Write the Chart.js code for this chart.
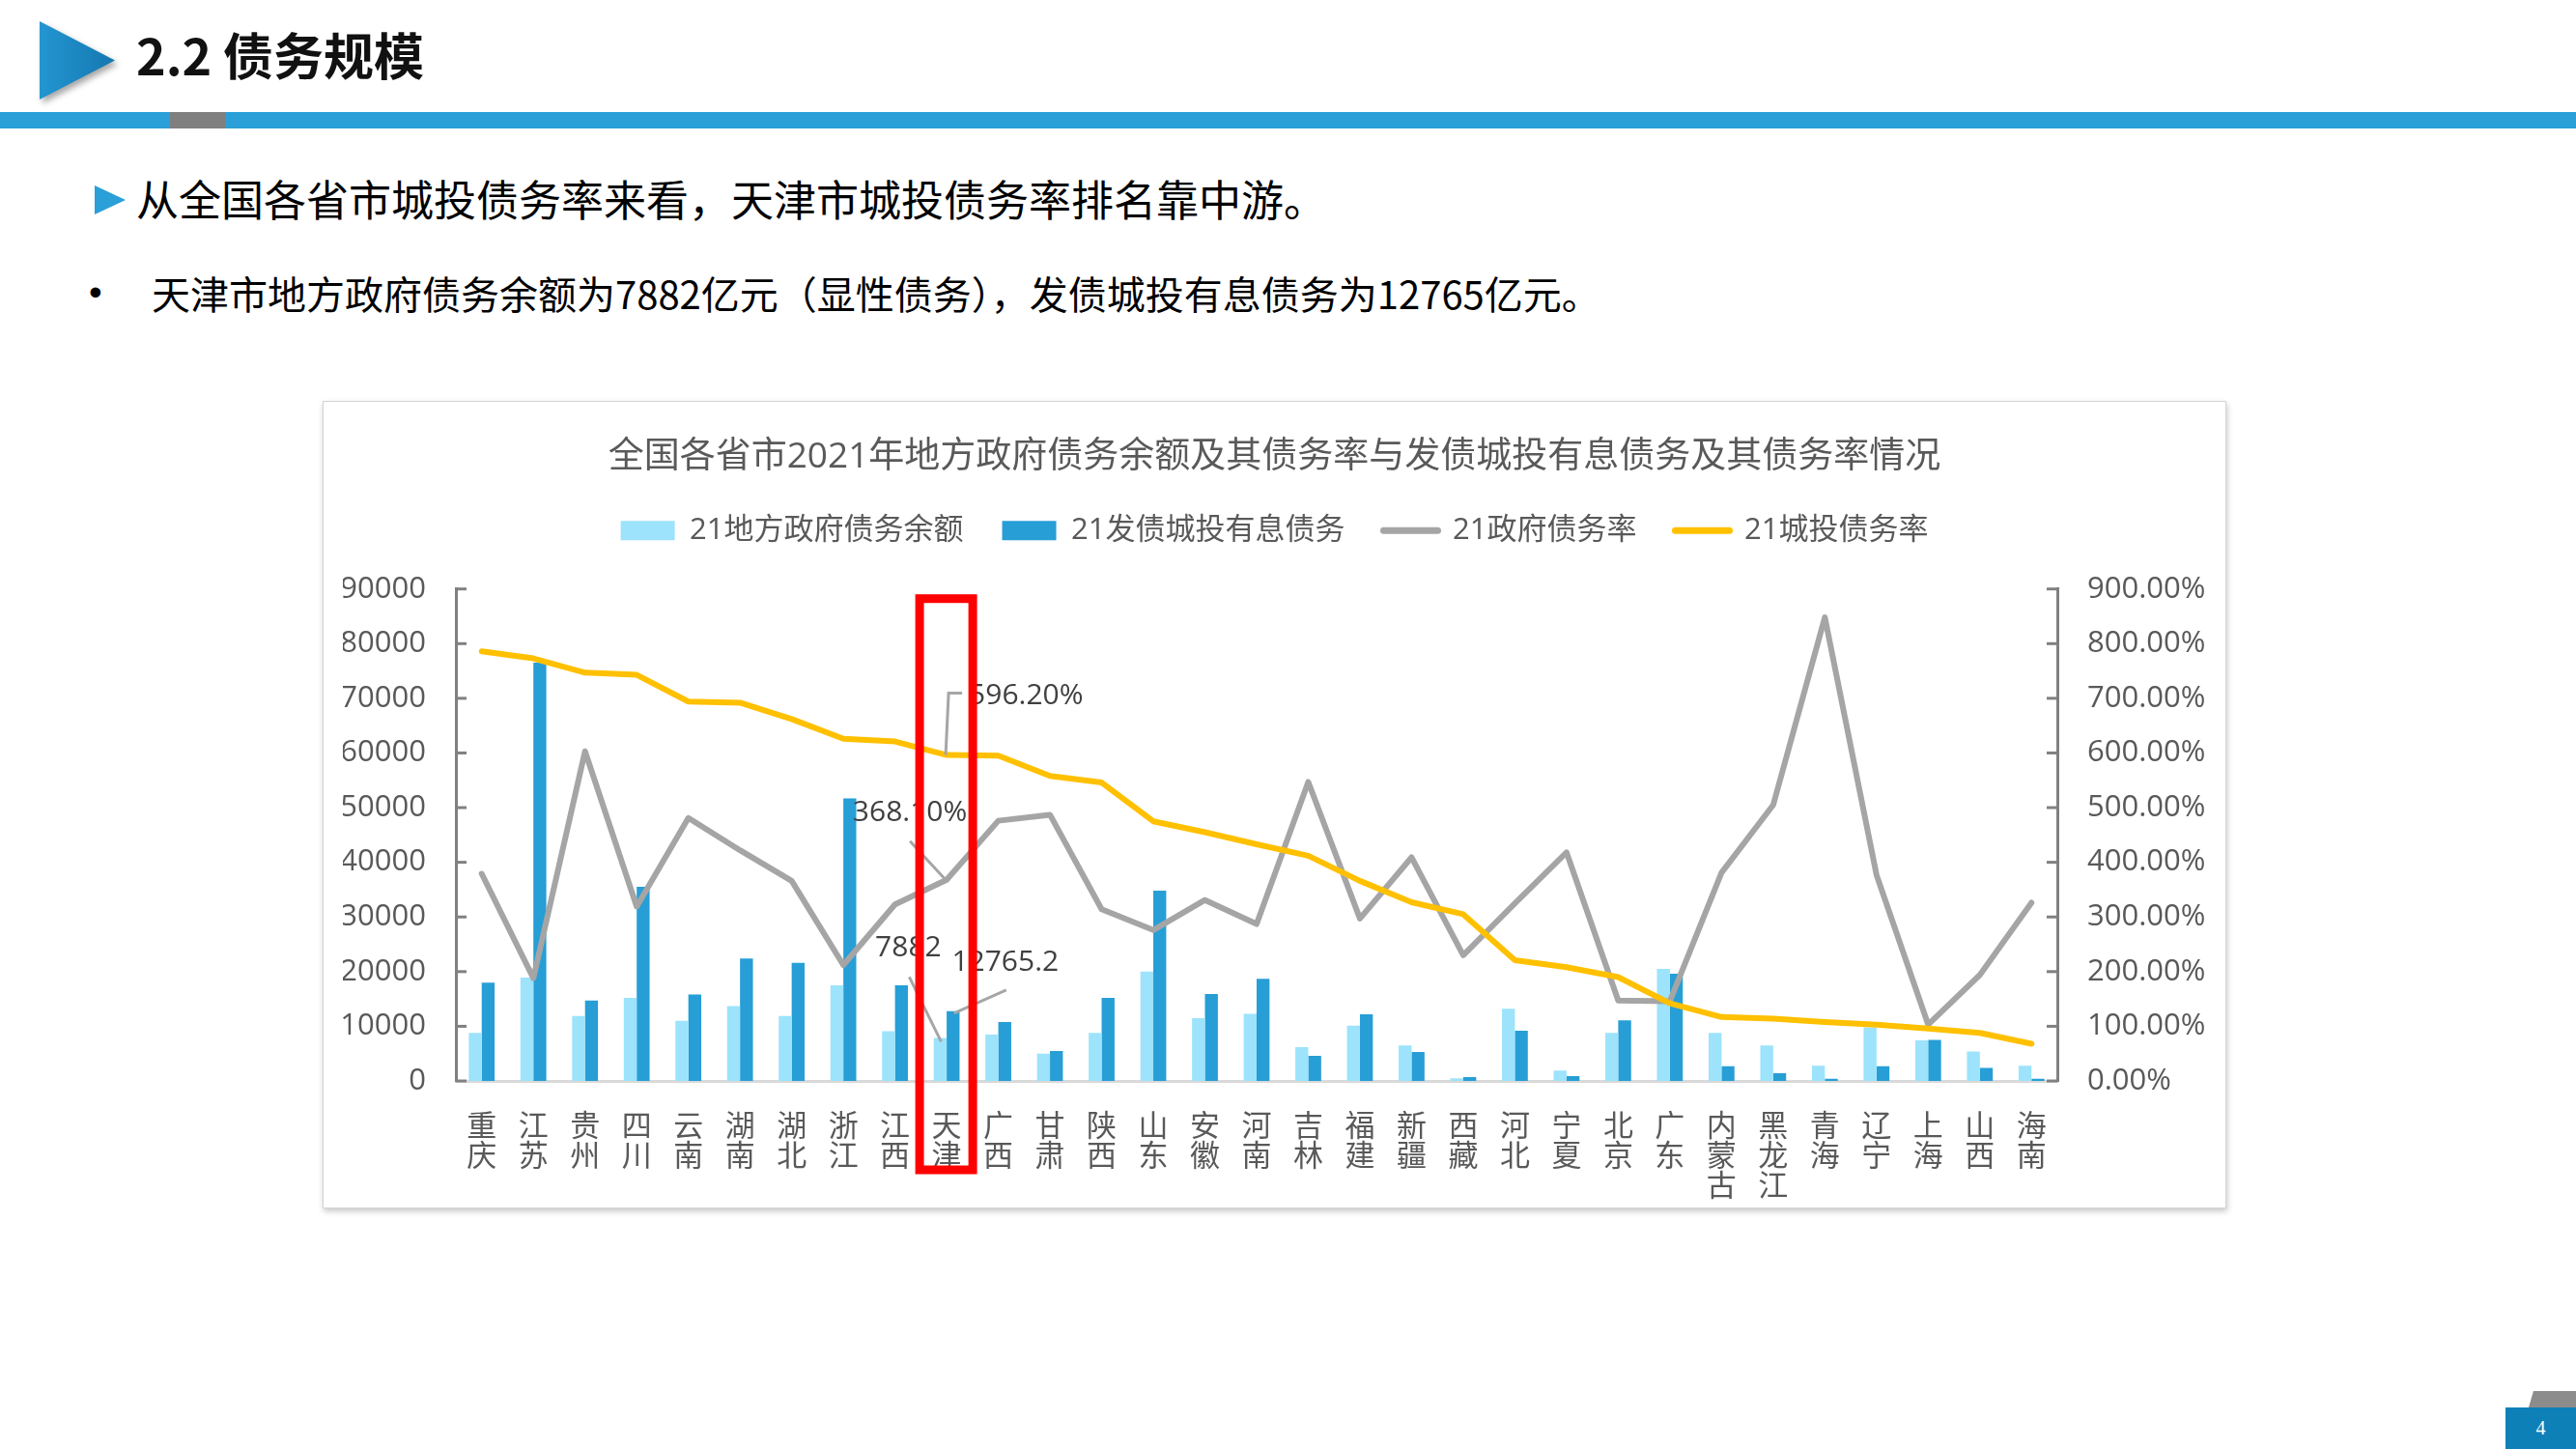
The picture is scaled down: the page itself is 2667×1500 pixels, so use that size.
<!DOCTYPE html>
<html lang="zh-CN">
<head>
<meta charset="utf-8">
<title>2.2 债务规模</title>
<script src="https://cdn.jsdelivr.net/npm/chart.js@4.4.1/dist/chart.umd.min.js"></script>
<style>
  html, body { margin: 0; padding: 0; background: #fff; }
  body { width: 2667px; height: 1500px; position: relative; overflow: hidden;
         font-family: "Noto Sans CJK SC", "Noto Sans", sans-serif; }
  .arrow-wrap { position: absolute; left: 41px; top: 22px; filter: drop-shadow(3px 4px 3px rgba(0,0,0,.35)); }
  .arrow { width: 78px; height: 81px; clip-path: polygon(0 0, 100% 50%, 0 100%);
           background: linear-gradient(90deg, #2396d2, #1577b0); }
  .page-title { position: absolute; left: 141px; top: 30px; font-size: 52px; line-height: 52px;
                font-weight: 700; color: #111; white-space: nowrap; }
  .stripe { position: absolute; left: 0; top: 116px; width: 2667px; height: 17px; background: #2a9fd8; }
  .stripe-mark { position: absolute; left: 176px; top: 116px; width: 57px; height: 17px; background: #7f7f7f; }
  .p1-mark { position: absolute; left: 98px; top: 192px; width: 32px; height: 30px;
             clip-path: polygon(0 0, 100% 50%, 0 100%); background: #2a9fd8; }
  .p1 { position: absolute; left: 141px; top: 183px; font-size: 44px; line-height: 44px; color: #000; white-space: nowrap; }
  .p2-dot { position: absolute; left: 92px; top: 283px; font-size: 39px; line-height: 39px; color: #000;
            font-family: "Liberation Sans", sans-serif; }
  .p2 { position: absolute; left: 157px; top: 283px; font-size: 40px; line-height: 40px; color: #000; white-space: nowrap; }
  .card { position: absolute; left: 334px; top: 415px; width: 1971px; height: 836px; box-sizing: border-box;
          background: #fff; border: 1px solid #d4d4d4; box-shadow: 1px 3px 6px rgba(0,0,0,.22); }
  .card canvas { display: block; }
  .page-tab { position: absolute; left: 2618px; top: 1440px; width: 49px; height: 17px; background: #8c8c8c;
              clip-path: polygon(10% 0, 100% 0, 100% 100%, 0 100%); }
  .page-no { position: absolute; left: 2594px; top: 1457px; width: 73px; height: 43px; background: #0e80b8;
             color: #fff; font: 20px/43px "Liberation Serif", serif; text-align: center; }
</style>
</head>
<body>
  <div class="arrow-wrap"><div class="arrow"></div></div>
  <div class="page-title">2.2 债务规模</div>
  <div class="stripe"></div>
  <div class="stripe-mark"></div>

  <div class="p1-mark"></div>
  <div class="p1">从全国各省市城投债务率来看，天津市城投债务率排名靠中游。</div>
  <div class="p2-dot">•</div>
  <div class="p2">天津市地方政府债务余额为7882亿元（显性债务），发债城投有息债务为12765亿元。</div>

  <div class="card"><canvas id="debtChart"></canvas></div>

  <div class="page-tab"></div>
  <div class="page-no">4</div>

<script>
// 省份（按城投债务率从高到低）
const provinces = ['重庆', '江苏', '贵州', '四川', '云南', '湖南', '湖北', '浙江', '江西', '天津',
  '广西', '甘肃', '陕西', '山东', '安徽', '河南', '吉林', '福建', '新疆', '西藏',
  '河北', '宁夏', '北京', '广东', '内蒙古', '黑龙江', '青海', '辽宁', '上海', '山西', '海南'];

// 21地方政府债务余额（亿元）
const govDebt = [8800, 18900, 11900, 15200, 11000, 13700, 11900, 17500, 9100, 7882,
  8500, 5000, 8800, 20000, 11500, 12300, 6200, 10100, 6500, 500,
  13200, 1900, 8800, 20500, 8800, 6500, 2800, 9800, 7400, 5400, 2800];

// 21发债城投有息债务（亿元）
const cityDebt = [18000, 76500, 14700, 35500, 15800, 22400, 21600, 51700, 17500, 12765.2,
  10800, 5500, 15200, 34800, 15900, 18700, 4600, 12200, 5300, 700,
  9200, 900, 11100, 19600, 2700, 1400, 400, 2700, 7500, 2400, 400];

// 21政府债务率（%）
const govRate = [379, 188, 603, 319, 481, 422, 366, 212, 323, 368.1,
  476, 487, 314, 276, 331, 287, 547, 297, 409, 230,
  325, 418, 147, 146, 381, 505, 848, 377, 103, 194, 326];

// 21城投债务率（%）
const cityRate = [786, 773, 747, 743, 694, 692, 662, 626, 621, 596.2,
  595, 558, 546, 475, 455, 433, 412, 366, 327, 305,
  221, 208, 190, 142, 117, 114, 108, 103, 96, 88, 68];

const debtTicks = [0, 10000, 20000, 30000, 40000, 50000, 60000, 70000, 80000, 90000];
const rateTicks = [0, 100, 200, 300, 400, 500, 600, 700, 800, 900];

const highlightIndex = provinces.indexOf('天津');

Chart.defaults.font.family = "'Open Sans', 'Noto Sans CJK SC', sans-serif";
Chart.defaults.color = '#595959';

const fmtRate = v => v.toFixed(2) + '%';

// push the plot a bit further from the legend
const legendGap = {
  id: 'legendGap',
  beforeInit(chart) {
    const fit = chart.legend.fit;
    chart.legend.fit = function () {
      fit.bind(chart.legend)();
      this.height += 35;
    };
  }
};

// excel style tick marks pointing into the plot
const innerTicks = {
  id: 'innerTicks',
  beforeDatasetsDraw(chart) {
    const ctx = chart.ctx;
    ctx.save();
    ctx.strokeStyle = '#808080';
    ctx.lineWidth = 3;
    [['y', 1], ['y1', -1]].forEach(([id, dir]) => {
      const scale = chart.scales[id];
      const x0 = id === 'y' ? scale.right : scale.left;
      scale.ticks.forEach(t => {
        const y = scale.getPixelForValue(t.value);
        ctx.beginPath();
        ctx.moveTo(x0, y);
        ctx.lineTo(x0 + dir * 11, y);
        ctx.stroke();
      });
    });
    ctx.restore();
  }
};

// data labels for Tianjin, with leader lines
const callouts = [
  { ds: 3, fmt: fmtRate, path: [[-1, 0], [2, -64], [16, -64]], text: [23, -61], align: 'left' },
  { ds: 2, fmt: fmtRate, path: [[-2, -1], [-38, -40]], text: [-38, -69], align: 'center' },
  { ds: 0, fmt: v => String(v), path: [[1, 4], [-32, -63]], text: [-33, -93], align: 'center' },
  { ds: 1, fmt: v => String(v), path: [[1, 2], [55, -22]], text: [54, -50], align: 'center' }
];

const tianjinLabels = {
  id: 'tianjinLabels',
  afterDatasetsDraw(chart) {
    const ctx = chart.ctx;
    ctx.save();
    callouts.forEach(c => {
      const el = chart.getDatasetMeta(c.ds).data[highlightIndex];
      const value = chart.data.datasets[c.ds].data[highlightIndex];
      ctx.strokeStyle = '#a6a6a6';
      ctx.lineWidth = 3;
      ctx.beginPath();
      c.path.forEach(([dx, dy], i) => {
        if (i === 0) ctx.moveTo(el.x + dx, el.y + dy);
        else ctx.lineTo(el.x + dx, el.y + dy);
      });
      ctx.stroke();
      ctx.fillStyle = '#404040';
      ctx.font = "30px 'Open Sans', 'Noto Sans CJK SC', sans-serif";
      ctx.textAlign = c.align;
      ctx.textBaseline = 'middle';
      ctx.fillText(c.fmt(value), el.x + c.text[0], el.y + c.text[1]);
    });
    ctx.restore();
  },
  afterDraw(chart) {
    const { ctx, chartArea } = chart;
    const x = chart.scales.x.getPixelForValue(highlightIndex);
    ctx.save();
    ctx.strokeStyle = '#ff0000';
    ctx.lineWidth = 9;
    ctx.strokeRect(x - 28, chartArea.top + 10, 55, chartArea.bottom - chartArea.top + 82);
    ctx.restore();
  }
};

new Chart(document.getElementById('debtChart'), {
  data: {
    labels: provinces.map(p => p.split('')),
    datasets: [
      {
        type: 'bar', label: '21地方政府债务余额', data: govDebt, yAxisID: 'y',
        backgroundColor: '#9ce3fb', categoryPercentage: 0.5, barPercentage: 1.0, order: 3
      },
      {
        type: 'bar', label: '21发债城投有息债务', data: cityDebt, yAxisID: 'y',
        backgroundColor: '#279ed6', categoryPercentage: 0.5, barPercentage: 1.0, order: 4
      },
      {
        type: 'line', label: '21政府债务率', data: govRate, yAxisID: 'y1',
        borderColor: '#a5a5a5', backgroundColor: '#a5a5a5', borderWidth: 6,
        pointRadius: 0, tension: 0, borderJoinStyle: 'round', borderCapStyle: 'round', order: 2
      },
      {
        type: 'line', label: '21城投债务率', data: cityRate, yAxisID: 'y1',
        borderColor: '#ffc000', backgroundColor: '#ffc000', borderWidth: 6,
        pointRadius: 0, tension: 0, borderJoinStyle: 'round', borderCapStyle: 'round', order: 1
      }
    ]
  },
  options: {
    responsive: true,
    maintainAspectRatio: false,
    animation: false,
    layout: { padding: { left: 20, right: 20, top: 0, bottom: 0 } },
    plugins: {
      title: {
        display: true,
        text: '全国各省市2021年地方政府债务余额及其债务率与发债城投有息债务及其债务率情况',
        color: '#595959',
        font: { size: 37, weight: 'normal', lineHeight: 1.1 },
        padding: { top: 37, bottom: 0 }
      },
      legend: {
        display: true,
        labels: {
          color: '#595959',
          font: { size: 31 },
          usePointStyle: true,
          pointStyleWidth: 56,
          boxHeight: 20,
          padding: 40,
          generateLabels(chart) {
            const items = Chart.defaults.plugins.legend.labels.generateLabels(chart);
            items.forEach(item => {
              const ds = chart.data.datasets[item.datasetIndex];
              if (ds.type === 'line') {
                item.pointStyle = 'line';
                item.strokeStyle = ds.borderColor;
                item.lineWidth = 7;
                item.lineCap = 'round';
              } else {
                item.pointStyle = 'rect';
                item.lineWidth = 0;
              }
            });
            return items.sort((a, b) => a.datasetIndex - b.datasetIndex);
          }
        }
      },
      tooltip: { enabled: false }
    },
    scales: {
      x: {
        grid: { display: false },
        border: { display: true, color: '#d9d9d9', width: 3 },
        ticks: {
          color: '#595959',
          font: { size: 31, lineHeight: 1.0 },
          padding: 25,
          maxRotation: 0,
          autoSkip: false
        },
        afterFit(scale) { scale.height = 131; }
      },
      y: {
        position: 'left',
        min: 0, max: 90000,
        afterBuildTicks(scale) { scale.ticks = debtTicks.map(v => ({ value: v })); },
        grid: { display: false, drawTicks: false },
        border: { display: true, color: '#808080', width: 3 },
        ticks: { color: '#595959', font: { size: 31 }, padding: 31, callback: v => String(v) },
        afterFit(scale) { scale.width = 117; }
      },
      y1: {
        position: 'right',
        min: 0, max: 900,
        afterBuildTicks(scale) { scale.ticks = rateTicks.map(v => ({ value: v })); },
        grid: { display: false, drawTicks: false },
        border: { display: true, color: '#808080', width: 3 },
        ticks: { color: '#595959', font: { size: 31 }, padding: 31, callback: v => fmtRate(v) },
        afterFit(scale) { scale.width = 154; }
      }
    }
  },
  plugins: [legendGap, innerTicks, tianjinLabels]
});
</script>
</body>
</html>
